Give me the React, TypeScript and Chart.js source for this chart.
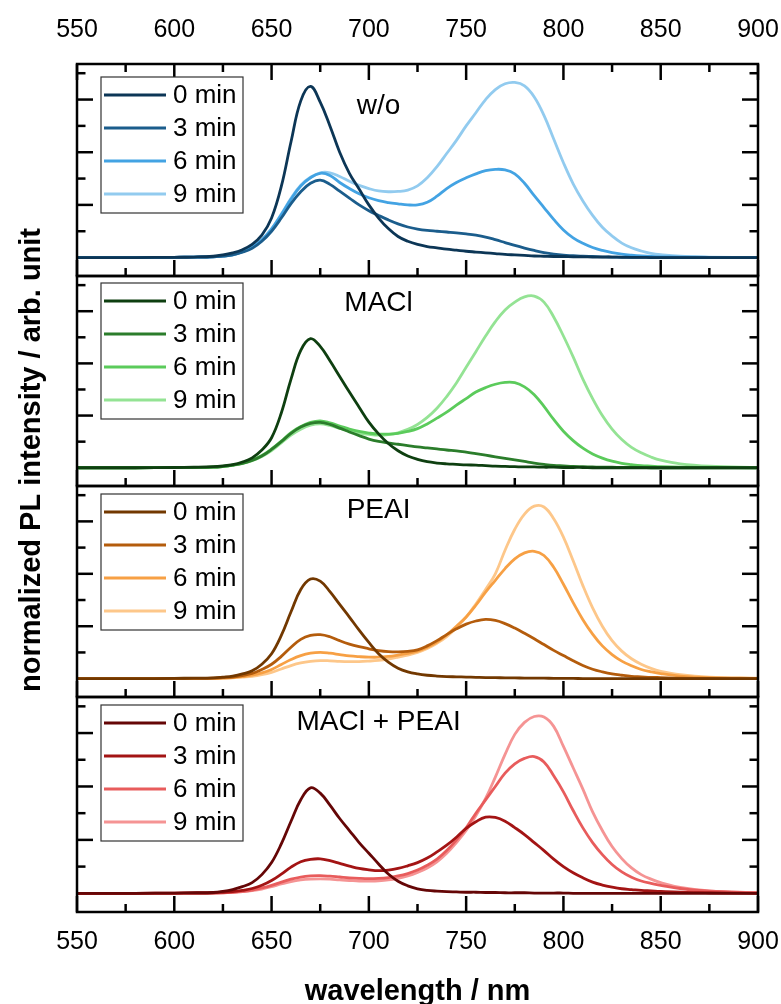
import React, { useEffect, useRef } from 'react';
import { Chart, registerables } from 'chart.js';

Chart.register(...registerables);

const FONT = "'Liberation Sans', Arial, Helvetica, sans-serif";

// wavelength grid (nm)
const wavelengths = [550, 580, 600, 610, 620, 625, 630, 635, 640, 645, 650, 655, 660, 665, 670, 675, 680, 685, 690, 695, 700, 705, 710, 715, 720, 725, 730, 735, 740, 745, 750, 755, 760, 765, 770, 775, 780, 785, 790, 795, 800, 805, 810, 815, 820, 825, 830, 835, 840, 845, 850, 860, 875, 900];

const xTickStep = 50;
const xMinorTicks = [550, 575, 600, 625, 650, 675, 700, 725, 750, 775, 800, 825, 850, 875, 900];
const yTicks = [0.1, 0.2, 0.3, 0.4, 0.5, 0.6, 0.7];

const timeLabels = ['0 min', '3 min', '6 min', '9 min'];
const panelTitles = ['w/o', 'MACl', 'PEAI', 'MACl + PEAI'];

// w/o
const wo0 = [0, 0, 0.001, 0.002, 0.005, 0.01, 0.018, 0.03, 0.05, 0.085, 0.15, 0.27, 0.44, 0.595, 0.65, 0.59, 0.5, 0.4, 0.32, 0.26, 0.2, 0.15, 0.11, 0.08, 0.062, 0.05, 0.042, 0.037, 0.032, 0.028, 0.024, 0.021, 0.018, 0.015, 0.012, 0.01, 0.008, 0.006, 0.005, 0.004, 0.004, 0.003, 0.003, 0.002, 0.002, 0.002, 0.001, 0.001, 0.001, 0, 0, 0, 0, 0];
const wo3 = [0, 0, 0.001, 0.002, 0.003, 0.006, 0.01, 0.02, 0.035, 0.062, 0.1, 0.15, 0.205, 0.25, 0.282, 0.294, 0.278, 0.252, 0.226, 0.2, 0.178, 0.16, 0.143, 0.128, 0.116, 0.108, 0.103, 0.1, 0.097, 0.094, 0.09, 0.085, 0.078, 0.068, 0.057, 0.046, 0.036, 0.027, 0.019, 0.013, 0.009, 0.007, 0.005, 0.004, 0.003, 0.002, 0.002, 0.001, 0.001, 0, 0, 0, 0, 0];
const wo6 = [0, 0, 0.001, 0.002, 0.003, 0.006, 0.01, 0.022, 0.04, 0.067, 0.108, 0.163, 0.222, 0.272, 0.303, 0.32, 0.312, 0.285, 0.262, 0.242, 0.227, 0.216, 0.209, 0.204, 0.2, 0.2, 0.21, 0.233, 0.262, 0.285, 0.303, 0.318, 0.33, 0.335, 0.333, 0.318, 0.282, 0.235, 0.19, 0.145, 0.105, 0.075, 0.054, 0.038, 0.027, 0.019, 0.013, 0.009, 0.006, 0.004, 0.003, 0.002, 0.001, 0];
const wo9 = [0, 0, 0.001, 0.002, 0.003, 0.006, 0.01, 0.022, 0.04, 0.068, 0.11, 0.165, 0.225, 0.275, 0.305, 0.322, 0.322, 0.308, 0.29, 0.274, 0.262, 0.253, 0.25, 0.251, 0.256, 0.272, 0.303, 0.345, 0.395, 0.445, 0.5, 0.55, 0.6, 0.638, 0.66, 0.665, 0.652, 0.61, 0.54, 0.45, 0.36, 0.28, 0.215, 0.16, 0.115, 0.082, 0.055, 0.037, 0.025, 0.016, 0.011, 0.005, 0.002, 0];

// MACl
const macl0 = [0, 0, 0.001, 0.002, 0.004, 0.007, 0.012, 0.022, 0.038, 0.068, 0.115, 0.21, 0.34, 0.45, 0.495, 0.465, 0.41, 0.35, 0.29, 0.232, 0.175, 0.13, 0.093, 0.065, 0.045, 0.032, 0.023, 0.018, 0.015, 0.013, 0.011, 0.01, 0.008, 0.006, 0.005, 0.004, 0.003, 0.003, 0.002, 0.002, 0.001, 0.001, 0.001, 0, 0, 0, 0, 0, 0, 0, 0, 0, 0, 0];
const macl3 = [0, 0, 0.001, 0.001, 0.002, 0.005, 0.01, 0.017, 0.028, 0.045, 0.07, 0.1, 0.132, 0.156, 0.17, 0.174, 0.166, 0.152, 0.137, 0.123, 0.11, 0.101, 0.095, 0.09, 0.085, 0.08, 0.076, 0.072, 0.068, 0.065, 0.06, 0.054, 0.048, 0.042, 0.036, 0.03, 0.024, 0.018, 0.013, 0.009, 0.007, 0.005, 0.004, 0.003, 0.002, 0.002, 0.001, 0.001, 0.001, 0, 0, 0, 0, 0];
const macl6 = [0, 0, 0.001, 0.001, 0.002, 0.005, 0.01, 0.018, 0.03, 0.047, 0.072, 0.102, 0.135, 0.158, 0.174, 0.18, 0.172, 0.16, 0.148, 0.139, 0.133, 0.129, 0.129, 0.132, 0.139, 0.15, 0.168, 0.19, 0.213, 0.24, 0.265, 0.29, 0.307, 0.32, 0.327, 0.326, 0.31, 0.28, 0.235, 0.185, 0.14, 0.104, 0.075, 0.053, 0.037, 0.025, 0.017, 0.012, 0.008, 0.006, 0.004, 0.002, 0.001, 0];
const macl9 = [0, 0, 0.001, 0.001, 0.002, 0.004, 0.009, 0.016, 0.027, 0.043, 0.066, 0.095, 0.125, 0.148, 0.163, 0.168, 0.162, 0.151, 0.141, 0.133, 0.128, 0.125, 0.127, 0.134, 0.147, 0.166, 0.193, 0.228, 0.273, 0.325, 0.385, 0.445, 0.505, 0.56, 0.605, 0.635, 0.655, 0.658, 0.635, 0.578, 0.505, 0.425, 0.34, 0.265, 0.2, 0.148, 0.108, 0.078, 0.057, 0.041, 0.029, 0.015, 0.006, 0.001];

// PEAI
const peai0 = [0, 0, 0.001, 0.002, 0.003, 0.006, 0.01, 0.018, 0.03, 0.055, 0.095, 0.165, 0.255, 0.34, 0.38, 0.372, 0.332, 0.283, 0.235, 0.185, 0.138, 0.095, 0.063, 0.04, 0.026, 0.018, 0.013, 0.01, 0.008, 0.007, 0.006, 0.005, 0.004, 0.004, 0.003, 0.003, 0.002, 0.002, 0.002, 0.001, 0.001, 0.001, 0, 0, 0, 0, 0, 0, 0, 0, 0, 0, 0, 0];
const peai3 = [0, 0, 0.001, 0.001, 0.002, 0.004, 0.006, 0.012, 0.02, 0.035, 0.055, 0.085, 0.12, 0.15, 0.165, 0.168, 0.16, 0.145, 0.132, 0.122, 0.114, 0.107, 0.103, 0.102, 0.104, 0.11, 0.125, 0.145, 0.168, 0.19, 0.208, 0.22, 0.226, 0.222, 0.21, 0.193, 0.173, 0.152, 0.13, 0.108, 0.088, 0.068, 0.05, 0.036, 0.026, 0.018, 0.013, 0.009, 0.007, 0.005, 0.004, 0.002, 0.001, 0];
const peai6 = [0, 0, 0, 0.001, 0.001, 0.002, 0.004, 0.008, 0.013, 0.022, 0.035, 0.054, 0.073, 0.088, 0.097, 0.1, 0.097, 0.092, 0.087, 0.084, 0.082, 0.082, 0.085, 0.09, 0.096, 0.105, 0.12, 0.14, 0.167, 0.2, 0.235, 0.28, 0.33, 0.375, 0.42, 0.457, 0.48, 0.486, 0.47, 0.425, 0.36, 0.29, 0.225, 0.17, 0.125, 0.092, 0.067, 0.049, 0.035, 0.026, 0.019, 0.01, 0.004, 0.001];
const peai9 = [0, 0, 0, 0.001, 0.001, 0.002, 0.003, 0.006, 0.009, 0.015, 0.024, 0.037, 0.05, 0.06, 0.066, 0.069, 0.068, 0.066, 0.065, 0.065, 0.067, 0.07, 0.075, 0.082, 0.09, 0.1, 0.115, 0.135, 0.16, 0.195, 0.235, 0.285, 0.34, 0.4, 0.49, 0.57, 0.628, 0.658, 0.655, 0.61, 0.54, 0.45, 0.355, 0.27, 0.2, 0.145, 0.105, 0.076, 0.055, 0.039, 0.028, 0.015, 0.006, 0.002];

// MACl + PEAI
const both0 = [0, 0, 0.001, 0.002, 0.003, 0.007, 0.014, 0.025, 0.04, 0.07, 0.115, 0.185, 0.27, 0.35, 0.395, 0.375, 0.33, 0.28, 0.235, 0.19, 0.15, 0.11, 0.072, 0.045, 0.028, 0.017, 0.011, 0.008, 0.006, 0.005, 0.004, 0.004, 0.003, 0.003, 0.002, 0.002, 0.002, 0.001, 0.001, 0.001, 0.001, 0, 0, 0, 0, 0, 0, 0, 0, 0, 0, 0, 0, 0];
const both3 = [0, 0, 0.001, 0.001, 0.002, 0.004, 0.006, 0.011, 0.018, 0.03, 0.048, 0.072, 0.098, 0.118, 0.127, 0.129, 0.122, 0.112, 0.102, 0.093, 0.088, 0.085, 0.087, 0.093, 0.103, 0.115, 0.132, 0.155, 0.18, 0.21, 0.243, 0.268, 0.285, 0.284, 0.27, 0.246, 0.22, 0.19, 0.16, 0.128, 0.1, 0.077, 0.058, 0.042, 0.031, 0.023, 0.017, 0.014, 0.011, 0.009, 0.007, 0.004, 0.002, 0];
const both6 = [0, 0, 0, 0.001, 0.001, 0.002, 0.004, 0.007, 0.012, 0.02, 0.03, 0.042, 0.053, 0.061, 0.065, 0.066, 0.064, 0.061, 0.058, 0.056, 0.055, 0.056, 0.059, 0.065, 0.074, 0.087, 0.105, 0.128, 0.16, 0.2, 0.245, 0.3, 0.35, 0.4, 0.45, 0.485, 0.505, 0.512, 0.492, 0.44, 0.38, 0.31, 0.245, 0.19, 0.145, 0.108, 0.08, 0.06, 0.046, 0.037, 0.03, 0.018, 0.008, 0.002];
const both9 = [0, 0, 0, 0.001, 0.001, 0.002, 0.003, 0.006, 0.01, 0.016, 0.025, 0.035, 0.044, 0.05, 0.053, 0.054, 0.053, 0.05, 0.048, 0.046, 0.046, 0.047, 0.05, 0.056, 0.065, 0.078, 0.095, 0.118, 0.15, 0.19, 0.235, 0.29, 0.355, 0.435, 0.52, 0.595, 0.64, 0.662, 0.66, 0.625, 0.55, 0.47, 0.39, 0.305, 0.235, 0.175, 0.13, 0.095, 0.07, 0.053, 0.04, 0.022, 0.009, 0.002];

const panelSeries = [
  [wo0, wo3, wo6, wo9],
  [macl0, macl3, macl6, macl9],
  [peai0, peai3, peai6, peai9],
  [both0, both3, both6, both9],
];

const panelColors = [
  ['#0c3656', '#1b5d8c', '#43a3e3', '#92cbef'],
  ['#0e3f10', '#2b7d2b', '#5bcb5b', '#94e394'],
  ['#723800', '#b45c0c', '#f7a044', '#fdc78a'],
  ['#650606', '#a31414', '#e85c5c', '#f59494'],
];

// top to bottom
const panelIds = ['yWo', 'yMacl', 'yPeai', 'yBoth'];
const panelWeights = [212, 210, 211, 215];
const legendOffsets = [13, 7, 8, 8];
const titleOffsets = [50, 35, 32, 33];

const framePlugin = {
  id: 'panelFrames',
  afterDatasetsDraw(chart: any) {
    const ctx = chart.ctx as CanvasRenderingContext2D;
    const { left, right } = chart.chartArea;
    const xs = chart.scales.x;
    const line = (x1: number, y1: number, x2: number, y2: number) => {
      ctx.beginPath();
      ctx.moveTo(x1, y1);
      ctx.lineTo(x2, y2);
      ctx.stroke();
    };
    ctx.save();
    const topMost = Math.min(...panelIds.map((id) => chart.scales[id].top));
    panelIds.forEach((id, i) => {
      const s = chart.scales[id];
      const top = s.top;
      const bottom = s.bottom;
      ctx.strokeStyle = '#000';
      ctx.lineWidth = 2.5;
      ctx.lineCap = 'butt';
      ctx.strokeRect(left, top, right - left, bottom - top);
      xMinorTicks.forEach((v) => {
        const px = xs.getPixelForValue(v);
        const len = v % xTickStep === 0 ? 16 : 8;
        line(px, bottom, px, bottom - len);
        if (top === topMost) line(px, top, px, top + len);
      });
      yTicks.forEach((v, k) => {
        const py = s.getPixelForValue(v);
        const len = k % 2 === 1 ? 16 : 8.5;
        line(left, py, left + len, py);
        line(right, py, right - len, py);
      });
      // legend
      const bx = left + 24;
      const by = top + legendOffsets[i];
      ctx.fillStyle = '#fff';
      ctx.fillRect(bx, by, 142, 136);
      ctx.strokeStyle = '#333';
      ctx.lineWidth = 1.2;
      ctx.strokeRect(bx, by, 142, 136);
      timeLabels.forEach((lab, k) => {
        const ry = by + 18 + 33 * k;
        ctx.strokeStyle = panelColors[i][k];
        ctx.lineWidth = 3;
        line(bx + 3, ry, bx + 65, ry);
        ctx.fillStyle = '#000';
        ctx.font = `26px ${FONT}`;
        ctx.textAlign = 'left';
        ctx.textBaseline = 'middle';
        ctx.fillText(lab, bx + 72, ry + 1);
      });
      // panel title
      ctx.fillStyle = '#000';
      ctx.font = `28px ${FONT}`;
      ctx.textAlign = 'center';
      ctx.textBaseline = 'alphabetic';
      ctx.fillText(panelTitles[i], xs.getPixelForValue(705), top + titleOffsets[i]);
    });
    // y axis title
    ctx.save();
    ctx.translate(32, 460);
    ctx.rotate(-Math.PI / 2);
    ctx.fillStyle = '#000';
    ctx.font = `bold 29px ${FONT}`;
    ctx.textAlign = 'center';
    ctx.textBaseline = 'middle';
    ctx.fillText('normalized PL intensity / arb. unit', 0, 0);
    ctx.restore();
    ctx.restore();
  },
};

export default function App() {
  const canvasRef = useRef<HTMLCanvasElement | null>(null);

  useEffect(() => {
    if (!canvasRef.current) return;
    const datasets: any[] = [];
    panelSeries.forEach((series, i) => {
      series.forEach((vals, k) => {
        datasets.push({
          label: `${panelTitles[i]} ${timeLabels[k]}`,
          data: wavelengths.map((w, j) => ({ x: w, y: vals[j] })),
          xAxisID: 'x',
          yAxisID: panelIds[i],
          borderColor: panelColors[i][k],
          backgroundColor: panelColors[i][k],
          borderWidth: 2.8,
          pointRadius: 0,
          tension: 0.4,
          fill: false,
        });
      });
    });

    const xTickFont = { family: FONT, size: 25 };
    const noSidePadding = (s: any, h: number) => {
      s.height = h;
      s.paddingLeft = 0;
      s.paddingRight = 0;
    };
    const scales: any = {
      x: {
        type: 'linear',
        position: 'bottom',
        min: 550,
        max: 900,
        ticks: { stepSize: xTickStep, font: xTickFont, color: '#000', padding: 15, maxRotation: 0, autoSkip: false, callback: (v: any) => String(v) },
        grid: { display: false, drawTicks: false },
        border: { display: false },
        title: { display: true, text: 'wavelength / nm', color: '#000', font: { family: FONT, size: 29, weight: 'bold' }, padding: { top: 0, bottom: -5 } },
        afterFit: (s: any) => noSidePadding(s, 92),
      },
      x2: {
        type: 'linear',
        position: 'top',
        min: 550,
        max: 900,
        ticks: { stepSize: xTickStep, font: xTickFont, color: '#000', padding: 19, maxRotation: 0, autoSkip: false, callback: (v: any) => String(v) },
        grid: { display: false, drawTicks: false },
        border: { display: false },
        afterFit: (s: any) => noSidePadding(s, 64),
      },
    };
    // stacked left axes: the first defined one ends up at the bottom, so define bottom panel first
    [...panelIds].reverse().forEach((id) => {
      const i = panelIds.indexOf(id);
      scales[id] = {
        type: 'linear',
        position: 'left',
        stack: 'panels',
        stackWeight: panelWeights[i],
        min: -0.07,
        max: 0.735,
        ticks: { display: false },
        grid: { display: false, drawTicks: false },
        border: { display: false },
        afterFit: (s: any) => { s.width = 0; },
      };
    });

    const chart = new Chart(canvasRef.current, {
      type: 'line',
      data: { datasets },
      options: {
        animation: false,
        responsive: false,
        devicePixelRatio: 1,
        layout: { padding: { left: 77, right: 23, top: 0, bottom: 0 } },
        plugins: { legend: { display: false }, tooltip: { enabled: false } },
        scales,
      } as any,
      plugins: [framePlugin],
    });
    return () => chart.destroy();
  }, []);

  return (
    <div style={{ position: 'fixed', left: 0, top: 0, width: 781, height: 1004, background: '#fff' }}>
      <canvas ref={canvasRef} width={781} height={1004} />
    </div>
  );
}
